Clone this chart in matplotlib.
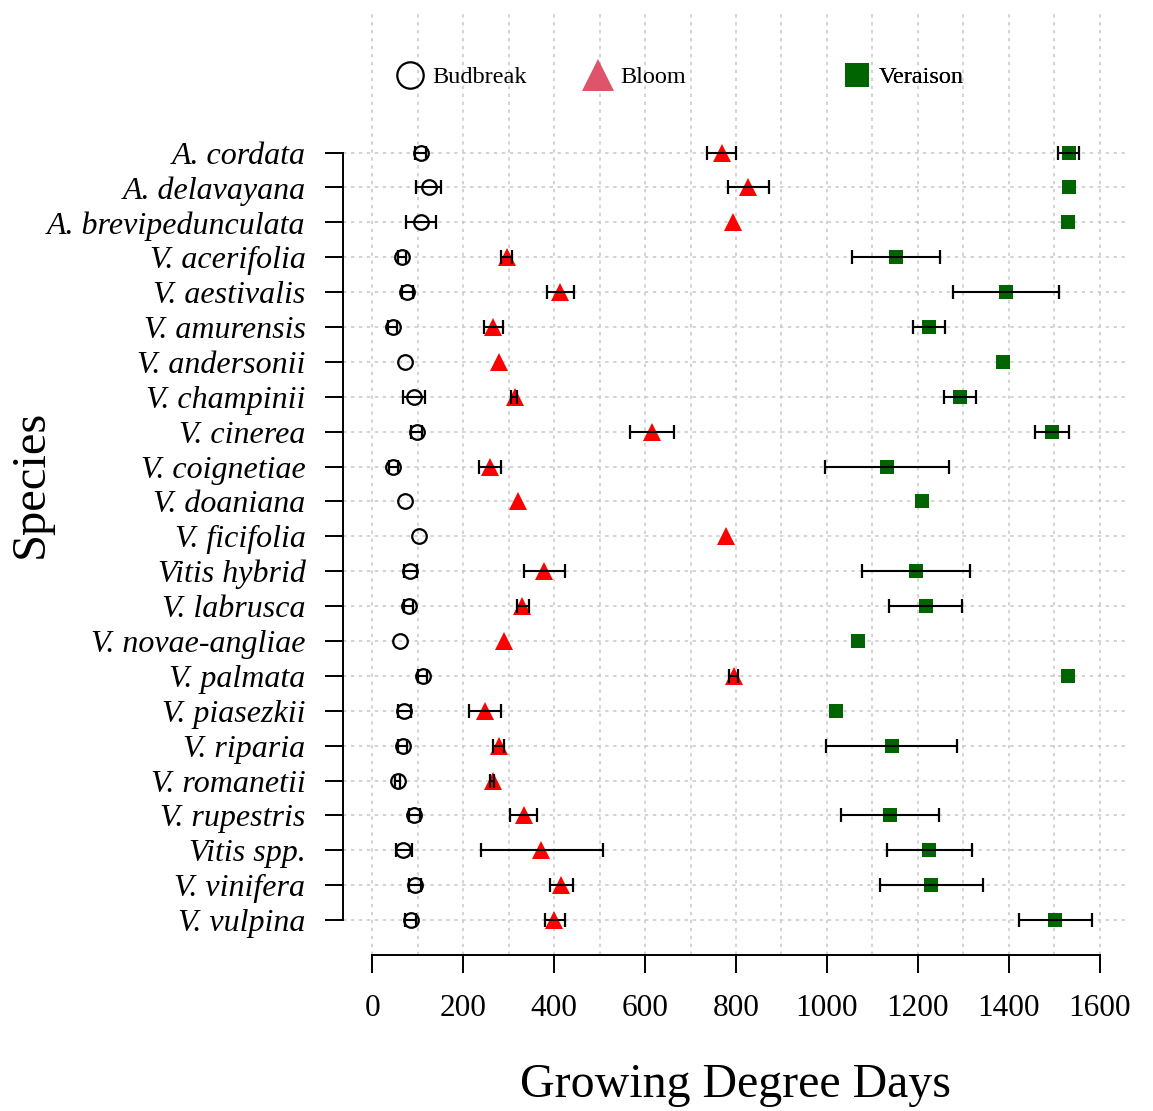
import numpy as np
import matplotlib
matplotlib.use("Agg")
import matplotlib.pyplot as plt
from matplotlib.lines import Line2D
from matplotlib.ticker import MultipleLocator

species = ["A. cordata", "A. delavayana", "A. brevipedunculata", "V. acerifolia",
           "V. aestivalis", "V. amurensis", "V. andersonii", "V. champinii",
           "V. cinerea", "V. coignetiae", "V. doaniana", "V. ficifolia",
           "Vitis hybrid", "V. labrusca", "V. novae-angliae", "V. palmata",
           "V. piasezkii", "V. riparia", "V. romanetii", "V. rupestris",
           "Vitis spp.", "V. vinifera", "V. vulpina"]

nan = np.nan
bud_mean = [107, 124, 107, 66, 77, 45, 72, 92, 98, 47, 73, 103, 84, 80, 61, 111, 71, 67, 56, 93, 68, 95, 85]
bud_lo   = [95, 97, 74, 58, 65, 35, nan, 67, 86, 37, nan, nan, 70, 70, nan, 101, 57, 57, 50, 81, 52, 82, 73]
bud_hi   = [119, 151, 140, 74, 89, 55, nan, 117, 110, 57, nan, nan, 98, 90, nan, 121, 85, 77, 62, 105, 88, 108, 97]

bloom_mean = [769, 827, 793, 296, 413, 266, 280, 314, 615, 259, 320, 778, 378, 330, 291, 795, 249, 278, 265, 333, 372, 416, 400]
bloom_lo   = [737, 782, 793, 284, 384, 246, nan, 306, 566, 235, nan, nan, 333, 318, nan, 784, 214, 265, 260, 304, 239, 390, 380]
bloom_hi   = [801, 872, 793, 307, 444, 287, nan, 319, 664, 283, nan, nan, 425, 345, nan, 805, 283, 291, 269, 362, 508, 442, 424]

ver_mean = [1532, 1532, 1529, 1151, 1393, 1224, 1387, 1292, 1495, 1132, 1210, nan, 1195, 1217, 1068, 1529, 1020, 1142, nan, 1138, 1225, 1229, 1502]
ver_lo   = [1508, 1532, 1529, 1055, 1276, 1189, nan, 1257, 1458, 995, nan, nan, 1078, 1137, nan, nan, nan, 997, nan, 1030, 1132, 1117, 1423]
ver_hi   = [1555, 1532, 1529, 1248, 1511, 1260, nan, 1328, 1532, 1269, nan, nan, 1314, 1297, nan, nan, nan, 1286, nan, 1246, 1319, 1342, 1582]

x_ticks = [0, 200, 400, 600, 800, 1000, 1200, 1400, 1600]
legend_labels = ["Budbreak", "Bloom", "Veraison"]

plt.rcParams['font.family'] = ['Liberation Serif', 'DejaVu Serif']

W, H = 1153, 1111
fig = plt.figure(figsize=(W / 100, H / 100), dpi=100)
L, R, T, B = 343, 1129, 13, 955
ax = fig.add_axes([L / W, 1 - B / H, (R - L) / W, (B - T) / H])

n = len(species)
ypos = np.arange(n, 0, -1)  # top row = 23

ax.set_xlim(-64, 1664)
ax.set_ylim(0, 27)

# grid
ax.xaxis.set_major_locator(plt.FixedLocator(x_ticks))
ax.xaxis.set_minor_locator(MultipleLocator(100))
ax.set_yticks(ypos)
ax.set_yticklabels(species, fontstyle='italic', fontsize=23)
gridkw = dict(color='#C8C8C8', linestyle=(0, (2.2, 3.0)), linewidth=1.1, zorder=0)
ax.grid(True, axis='x', which='both', **gridkw)
ax.grid(True, axis='y', which='major', **gridkw)
ax.set_axisbelow(True)

# markers
ms_kw = dict(linestyle='none', zorder=3)
ax.plot(bud_mean, ypos, marker='o', markersize=10.5, markerfacecolor='none',
        markeredgecolor='black', markeredgewidth=1.6, **ms_kw)
ax.plot(bloom_mean, ypos, marker='^', markersize=13.5, color='#FF0000',
        markeredgewidth=0, **ms_kw)
ax.plot(ver_mean, ypos, marker='s', markersize=10.5, color='#006400',
        markeredgewidth=0, **ms_kw)

# error bars
def draw_err(mean, lo, hi):
    m = np.array(mean, float); l = np.array(lo, float); h = np.array(hi, float)
    ok = np.isfinite(l) & np.isfinite(h) & (h > l)
    ax.errorbar(m[ok], ypos[ok], xerr=[m[ok] - l[ok], h[ok] - m[ok]], fmt='none',
                ecolor='black', elinewidth=1.5, capsize=5, capthick=1.6, zorder=4)

draw_err(bud_mean, bud_lo, bud_hi)
draw_err(bloom_mean, bloom_lo, bloom_hi)
draw_err(ver_mean, ver_lo, ver_hi)

# spines
for s in ['top', 'right']:
    ax.spines[s].set_visible(False)
ax.spines['left'].set_bounds(1, n)
ax.spines['bottom'].set_bounds(0, 1600)
ax.spines['left'].set_linewidth(1.4)
ax.spines['bottom'].set_linewidth(1.4)
ax.tick_params(axis='both', which='major', length=13, width=1.4, color='black')
ax.tick_params(axis='x', which='minor', length=0)
ax.tick_params(axis='y', pad=14)
ax.tick_params(axis='x', pad=15, labelsize=22.5)

ax.set_xlabel("Growing Degree Days", fontsize=34.5)
ax.xaxis.label.set_va('center')
ax.xaxis.set_label_coords(0.5, (B - 1085) / (B - T))
ax.set_ylabel("Species", fontsize=35)
ax.yaxis.label.set_va('center')
ax.yaxis.set_label_coords((31 - L) / (R - L), 0.5)

# legend (three single-entry legends placed in one row)
handles = [
    Line2D([], [], linestyle='none', marker='o', markersize=19, markerfacecolor='none',
           markeredgecolor='black', markeredgewidth=1.6),
    Line2D([], [], linestyle='none', marker='^', markersize=23, color='#DF536B', markeredgewidth=0),
    Line2D([], [], linestyle='none', marker='s', markersize=17.5, color='#006400', markeredgewidth=0),
]
centers_px = [410, 598, 857]
leg_y = (B - 77) / (B - T)
for hnd, lab, cx in zip(handles, legend_labels, centers_px):
    leg = ax.legend([hnd], [lab], loc='center left',
                    bbox_to_anchor=((cx - 12 - L) / (R - L), leg_y),
                    frameon=False, fontsize=17.5, handlelength=1.0, handletextpad=0.4,
                    borderpad=0, borderaxespad=0)
    ax.add_artist(leg)

fig.savefig("out.png", dpi=100, facecolor='white')
